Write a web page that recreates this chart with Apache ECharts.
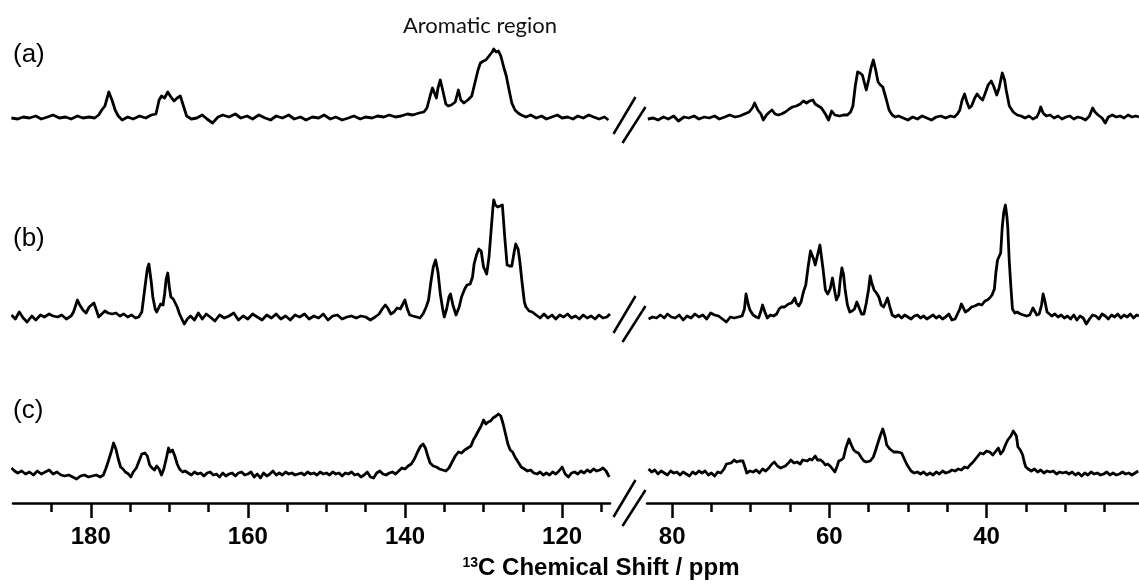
<!DOCTYPE html>
<html>
<head>
<meta charset="utf-8">
<script src="https://cdn.jsdelivr.net/npm/echarts@6/dist/echarts.min.js"></script>
<style>
html, body { margin: 0; padding: 0; background: #fff; }
#chart { width: 1139px; height: 585px; }
</style>
</head>
<body>
<div id="chart"></div>
<script>
// ppm ranges of the two halves of the broken axis
var rangeLeft = [113.9, 189.9];
var rangeRight = [20.6, 83.2];
var majorLeft = [180, 160, 140, 120];
var minorLeft = [185, 175, 170, 165, 155, 150, 145, 135, 130, 125, 115];
var majorRight = [80, 60, 40];
var minorRight = [75, 70, 65, 55, 50, 45, 35, 30, 25];
var traceNames = ['(a)', '(b)', '(c)'];
var regionText = 'Aromatic region';

// [ppm, intensity]
var aLeft = [[190.1,0],[189.3,-1],[188.6,1],[187.8,0],[187,2],[186.3,-1],[185.5,1],[184.8,3],[184,0],[183.2,1],[182.5,-1],[181.7,2],[181,0],[180.2,1],[179.5,0],
  [179,3],[178.6,8],[178.2,12],[177.7,26],[177.3,18],[176.9,8],[176.5,2],[176,-2],[175.3,1],[174.6,-1],[173.8,2],[173,0],[172.3,3],[171.7,4],[171.3,18],[171.0,22],[170.6,20],[170.2,26],[169.8,21],[169.4,17],[169.0,20],[168.6,22],[168.2,12],[167.8,2],[167.2,-1],[166.5,0],[165.8,3],[165.2,-1],[164.5,-5],[163.8,1],
  [163.2,3],[162.4,1],[161.6,4],[160.9,0],[160.1,2],[159.4,-1],[158.6,3],[157.8,0],[157.1,-2],[156.4,2],[155.6,0],[154.8,3],[154.1,-1],[153.3,1],[152.6,-2],[151.8,1],[151,0],[150.3,3],[149.5,-1],[148.8,1],[148,-2],[147.2,0],[146.5,2],[145.7,-1],[145,1],[144.2,0],[143.5,2],[142.7,1],[142,3],[141.2,1],[140.5,2],[139.7,4],[139,3],[138.2,5],[137.6,6],
  [137.2,10],[136.8,22],[136.5,30],[136.2,24],[136,20],[135.8,30],[135.5,38],[135.2,28],[134.8,14],[134.5,12],[134.1,13],[133.6,16],[133.2,28],[132.9,18],[132.5,15],[132,18],[131.5,22],[131.1,35],[130.7,48],[130.4,55],[130,57],[129.7,58],[129.3,62],[128.9,66],[128.7,69],[128.4,66],[128.1,67],[127.8,62],[127.4,50],[127.1,42],[126.8,30],[126.4,15],[126,8],[125.6,5],[125.2,3],
  [124.6,1],[124,3],[123.3,0],[122.6,2],[122,-1],[121.3,1],[120.6,3],[120,0],[119.3,1],[118.6,-1],[118,2],[117.3,0],[116.6,3],[116,1],[115.3,-1],[114.6,1],[114.1,-2]];

var aRight = [[83.1,-1],[82.4,0],[81.8,-2],[81.1,1],[80.5,-1],[79.8,2],[79.2,-3],[78.5,1],[77.9,0],[77.2,2],[76.6,-1],[75.9,1],[75.3,0],[74.6,2],[74,-1],[73.3,1],[72.7,3],[72,1],[71.4,2],[70.8,4],[70.2,6],[69.8,10],[69.5,15],[69.1,8],[68.7,4],[68.4,-2],[68,3],[67.6,6],[67.3,8],[66.9,4],[66.5,3],[66.1,4],[65.6,6],[65.1,9],[64.7,11],[64.2,12],[63.7,14],[63.3,17],[62.9,15],[62.5,17],[62.1,18],[61.8,14],[61.4,12],[61,10],[60.5,4],[60.1,-2],[59.7,7],[59.3,3],[58.7,2],[58.2,3],[57.7,3],[57.3,6],[57,12],[56.7,32],[56.4,46],[56.1,45],[55.8,43],[55.5,34],[55.3,28],[55,38],[54.7,50],[54.4,58],[54.1,48],[53.8,36],[53.5,33],[53.2,31],[52.8,20],[52.4,8],[52,3],[51.6,1],[51.2,2],
  [50.6,0],[50,-2],[49.4,1],[48.8,-1],[48.2,2],[47.6,0],[47,-2],[46.4,1],[45.8,2],[45.2,0],[44.6,2],[44.1,1],
  [43.7,4],[43.4,8],[43.1,18],[42.8,24],[42.5,16],[42.2,10],[41.9,12],[41.5,20],[41.2,24],[40.8,20],[40.5,18],[40.2,24],[39.8,33],[39.4,37],[39.1,32],[38.7,23],[38.4,30],[38.0,45],[37.7,38],[37.5,28],[37.1,12],[36.6,6],[36.1,3],[35.6,2],[35.1,0],[34.6,2],[34.1,-1],[33.6,1],[33.3,6],[33.1,11],[32.8,5],[32.4,2],[31.9,3],[31.4,0],[30.9,2],[30.4,-1],[29.9,1],[29.4,2],[28.9,-1],[28.4,1],[27.9,0],[27.4,-2],[26.9,2],[26.5,10],[26.2,6],[25.8,3],[25.3,0],[24.9,-5],[24.5,1],[24,3],[23.5,1],[23,2],[22.5,0],[22,3],[21.5,1],[21,2],[20.6,1]];

var bLeft = [[190.1,2],[189.6,-2],[189.1,5],[188.6,-1],[188.1,-5],[187.5,1],[187,-3],[186.4,2],[185.9,0],[185.3,3],[184.8,1],[184.2,0],[183.7,2],[183.1,-2],[182.5,1],[182.2,5],[181.9,12],[181.7,17],[181.4,12],[181,7],[180.6,4],[180.2,10],[179.9,12],[179.6,14],[179.2,5],[179,0],[178.6,3],[178.2,6],[177.8,4],[177.3,3],[176.8,4],[176.3,1],[175.8,3],[175.3,0],[174.8,2],[174.3,-1],[173.9,0],[173.5,5],[173.1,30],[172.8,48],[172.6,53],[172.3,35],[172.1,20],[171.8,8],[171.6,5],[171.3,10],[171.1,13],[170.8,12],[170.6,23],[170.4,38],[170.2,44],[170,30],[169.8,20],[169.5,18],[169.3,17],[169,10],[168.7,3],[168.4,-2],[168.1,-7],[167.7,-2],[167.3,1],[166.8,-3],[166.3,4],[165.8,-2],[165.3,3],[164.8,0],
  [164.2,-4],[163.6,2],[163,-1],[162.4,1],[161.8,4],[161.2,-3],[160.6,1],[160,-2],[159.4,3],[158.8,0],[158.2,-3],[157.6,2],[157,-1],[156.4,3],[155.8,-2],[155.2,1],[154.6,-3],[154,2],[153.4,0],[152.8,3],[152.2,-2],[151.6,1],[151,-1],[150.4,3],[149.8,-3],[149.2,1],[148.6,2],[148,-2],[147.4,0],[146.8,1],[146.2,-1],[145.6,1],[145,0],[144.4,-3],[143.8,0],[143.3,3],
  [142.9,8],[142.5,12],[142.2,9],[141.8,3],[141.4,5],[141,9],[140.6,8],[140.2,14],[140,17],[139.7,8],[139.4,2],[139,1],[138.5,0],[138.1,-1],[137.7,3],[137.3,10],[137,17],[136.7,35],[136.4,50],[136.1,57],[135.8,45],[135.5,23],[135.2,8],[135,0],[134.7,8],[134.4,20],[134.2,23],[133.9,12],[133.5,2],[133.1,10],[132.8,20],[132.4,28],[132.1,32],[131.7,33],[131.4,40],[131.2,53],[130.9,62],[130.6,68],[130.3,66],[130,50],[129.6,43],[129.3,60],[129,90],[128.8,110],[128.7,117],[128.5,112],[128.2,110],[127.9,111],[127.6,112],[127.3,80],[127,52],[126.7,51],[126.4,51],[126.1,65],[125.9,73],[125.6,68],[125.4,57],[125.1,35],[124.8,15],[124.6,10],[124.2,6],[123.8,5],[123.3,2],
  [122.8,-1],[122.3,3],[121.8,-1],[121.3,2],[120.8,-2],[120.3,2],[119.8,0],[119.3,3],[118.8,-1],[118.3,1],[117.8,-2],[117.3,2],[116.8,-1],[116.3,1],[115.8,-2],[115.3,2],[114.8,-1],[114.3,0],[113.9,3]];

var bRight = [[83,-2],[82.5,0],[82,-1],[81.5,2],[81,-1],[80.6,3],[80.1,0],[79.6,-1],[79.1,2],[78.6,-3],[78.1,1],[77.6,-1],[77.1,3],[76.6,0],[76.1,2],[75.6,-2],[75.1,4],[74.6,2],[74.1,1],[73.6,-2],[73.1,-5],[72.6,0],[72.1,-1],[71.6,0],[71.1,1],[70.8,8],[70.6,23],[70.3,12],[70.1,7],[69.7,2],[69.3,0],[69,-1],[68.7,6],[68.5,12],[68.2,5],[67.9,-1],[67.5,2],[67.1,1],[66.7,3],[66.4,8],[66.1,10],[65.7,10],[65.2,13],[64.8,14],[64.4,19],[64.2,14],[63.9,11],[63.6,15],[63.3,25],[63,32],[62.7,50],[62.4,66],[62.2,65],[62,58],[61.8,52],[61.5,62],[61.2,72],[61,70],[60.8,48],[60.5,27],[60.2,23],[59.9,28],[59.6,39],[59.3,25],[59.1,17],[58.8,22],[58.6,38],[58.4,49],[58.2,43],[58,28],[57.7,12],[57.4,5],[57.1,6],[56.8,8],[56.5,15],[56.2,9],[55.9,3],[55.6,3],[55.3,14],[55,28],[54.8,41],[54.6,34],[54.3,27],[54,24],[53.7,20],[53.4,12],[53.1,10],[52.8,15],[52.6,19],[52.3,10],[52,2],[51.6,0],[51.2,2],[50.8,-1],[50.4,2],[50,0],[49.6,-2],[49.2,1],[48.8,2],[48.4,-1],[48,1],[47.6,-2],[47.2,0],[46.8,2],[46.4,-1],[46,1],[45.6,-2],[45.2,0],[44.8,3],[44.4,-3],[44,-2],[43.7,3],[43.4,8],[43.2,13],[43,10],[42.7,5],[42.3,7],[41.9,10],[41.5,11],[41,13],[40.6,12],[40.2,16],[39.9,17],[39.6,19],[39.3,22],[39,28],[38.8,45],[38.6,57],[38.4,58],[38.2,64],[38,90],[37.8,105],[37.6,112],[37.4,100],[37.3,90],[37.1,55],[36.9,30],[36.7,8],[36.4,4],[36.1,5],[35.7,3],[35.3,2],[34.9,1],[34.5,2],[34.1,9],[33.9,8],[33.6,2],[33.3,3],[33,12],[32.8,23],[32.6,17],[32.3,5],[32.1,3],[31.7,1],[31.3,3],[30.9,0],[30.5,2],[30.1,-1],[29.7,1],[29.3,-2],[28.9,2],[28.5,-3],[28.1,1],[27.7,-1],[27.3,-7],[26.9,-2],[26.5,2],[26.1,1],[25.7,-2],[25.3,3],[24.9,1],[24.5,-2],[24.1,2],[23.7,0],[23.3,3],[22.9,-1],[22.5,2],[22.1,0],[21.7,3],[21.3,-1],[20.9,2],[20.6,1]];

var cLeft = [[190.1,6],[189.7,3],[189.3,1],[188.8,3],[188.3,0],[187.8,2],[187.3,-1],[186.8,3],[186.3,0],[185.8,2],[185.3,4],[184.8,0],[184.3,2],[183.8,-1],[183.3,-2],[182.8,-1],[182.3,-3],[181.8,-5],[181.3,-2],[180.8,-1],[180.3,-3],[179.8,-2],[179.3,-1],[178.8,-3],[178.4,-1],[178.1,5],[177.8,12],[177.4,22],[177.1,31],[176.8,25],[176.5,15],[176.2,7],[175.9,5],[175.6,2],[175.2,0],[174.9,-3],[174.6,2],[174.2,6],[173.8,14],[173.5,20],[173.1,21],[172.8,18],[172.5,9],[172.2,6],[171.9,4],[171.6,8],[171.3,5],[171,-1],[170.7,5],[170.4,15],[170.1,26],[169.9,22],[169.6,24],[169.3,18],[169,10],[168.7,5],[168.3,2],[168,3],[167.6,1],[167.2,-1],[166.8,2],[166.4,0],[166,1],[165.6,-2],[165.2,1],[164.8,2],[164.4,-1],[164,0],[163.6,-3],[163.2,1],[162.8,-2],[162.4,0],[162,1],[161.6,-2],[161.2,1],[160.8,2],[160.4,-1],[160,0],[159.6,2],[159.2,-3],[158.8,0],[158.4,-4],[158,1],[157.6,-2],[157.2,0],[156.8,3],[156.4,-1],[156,1],[155.6,-1],[155.2,2],[154.8,0],[154.4,1],[154,-1],[153.6,0],[153.2,1],[152.8,-1],[152.4,2],[152,0],[151.6,1],[151.2,-1],[150.8,2],[150.4,0],[150,1],[149.6,-1],[149.2,2],[148.8,0],[148.4,1],[148,-2],[147.6,1],[147.2,0],[146.8,2],[146.4,-1],[146,0],[145.6,-3],[145.2,-1],[144.8,2],[144.4,-3],[144,-4],[143.6,1],[143.2,3],[142.8,0],[142.4,-1],[142,1],[141.6,2],[141.2,0],
  [140.8,3],[140.4,6],[140,5],[139.6,8],[139.2,10],[138.8,15],[138.4,22],[138,28],[137.7,30],[137.4,26],[137.1,18],[136.8,11],[136.4,8],[136,7],[135.6,5],[135.2,4],[134.8,3],[134.4,6],[134,12],[133.6,18],[133.2,22],[132.8,21],[132.4,24],[132,26],[131.6,28],[131.3,34],[131,38],[130.6,44],[130.3,48],[130,54],[129.7,50],[129.4,52],[129.1,53],[128.8,56],[128.4,58],[128.1,60],[127.8,58],[127.5,50],[127.2,40],[126.9,30],[126.6,24],[126.3,22],[126,17],[125.6,12],[125.2,7],[124.8,5],[124.4,3],[124,4],[123.6,1],[123.2,0],[122.8,2],[122.4,-1],[122,1],[121.6,-1],[121.2,2],[120.8,0],[120.4,3],[120,7],[119.6,0],[119.2,-3],[118.8,1],[118.4,2],[118,0],[117.6,3],[117.2,1],[116.8,4],[116.4,2],[116,5],[115.6,3],[115.2,4],[114.8,6],[114.4,3],[114,-3]];

var cRight = [[83.0,5],[82.6,2],[82.2,4],[81.8,0],[81.4,3],[81.0,1],[80.6,-1],[80.2,3],[79.8,1],[79.4,2],[79.0,-1],[78.6,2],[78.2,0],[77.8,-2],[77.4,2],[77.0,0],[76.6,3],[76.2,1],[75.8,3],[75.4,-1],[75.0,1],[74.6,-2],[74.2,2],[73.8,1],[73.4,5],[73.1,10],[72.9,12],[72.5,11],[72.1,14],[71.8,12],[71.4,13],[71.0,13],[70.7,6],[70.5,1],[70.1,3],[69.7,2],[69.3,4],[68.9,1],[68.5,5],[68.1,3],[67.7,6],[67.3,10],[67.0,12],[66.6,8],[66.2,6],[66.0,4],[65.6,8],[65.2,11],[64.9,14],[64.5,11],[64.1,12],[63.7,10],[63.4,14],[63.2,16],[62.8,13],[62.5,15],[62.2,14],[61.8,18],[61.5,14],[61.1,14],[60.8,12],[60.5,9],[60.2,10],[59.9,8],[59.6,5],[59.3,2],[59.0,8],[58.8,13],[58.5,14],[58.2,16],[57.9,26],[57.5,35],[57.2,29],[56.9,24],[56.6,22],[56.3,21],[55.9,16],[55.6,13],[55.3,12],[55.1,10],[54.8,13],[54.4,17],[54.1,24],[53.7,34],[53.4,41],[53.2,45],[52.9,37],[52.7,29],[52.3,25],[51.8,22],[51.3,22],[50.8,21],[50.4,14],[50.1,9],[49.6,3],[49.2,1],[48.8,2],[48.4,0],[48.0,2],[47.6,-1],[47.2,1],[46.8,-1],[46.4,2],[46.0,0],[45.6,3],[45.2,1],[44.8,2],[44.4,4],[44.0,3],[43.6,5],[43.2,4],[42.8,7],[42.4,6],[42.1,9],[41.7,12],[41.3,16],[40.8,21],[40.4,20],[40.0,23],[39.6,22],[39.2,19],[38.9,22],[38.5,26],[38.2,20],[37.9,23],[37.6,29],[37.3,34],[36.9,38],[36.6,43],[36.4,44],[36.2,38],[36.0,27],[35.7,24],[35.4,19],[35.2,12],[35.0,7],[34.7,5],[34.3,3],[33.9,5],[33.5,2],[33.1,4],[32.7,1],[32.3,3],[31.9,2],[31.5,3],[31.1,0],[30.7,2],[30.3,1],[29.9,2],[29.5,0],[29.1,2],[28.7,-1],[28.3,1],[27.9,-2],[27.5,1],[27.1,-1],[26.7,2],[26.3,0],[25.9,1],[25.5,-1],[25.1,0],[24.7,2],[24.3,-1],[23.9,1],[23.5,-1],[23.1,0],[22.7,2],[22.3,0],[21.9,1],[21.5,-1],[21.1,1],[20.7,3]];

var traces = [[aLeft, aRight], [bLeft, bRight], [cLeft, cRight]];

// layout
var rows = [
    { top: 8, height: 130, min: -20, max: 110 },
    { top: 192, height: 145, min: -20, max: 125 },
    { top: 394, height: 109, min: -29, max: 80 }
];
var cols = [
    { left: 13, right: 529, range: rangeLeft, major: majorLeft, minor: minorLeft },
    { left: 647, right: 0, range: rangeRight, major: majorRight, minor: minorRight }
];
var tickFont = '"Liberation Sans Narrow", "Liberation Sans", Arial, sans-serif';
var black = '#000';

var chart = echarts.init(document.getElementById('chart'));

var grid = [], xAxis = [], yAxis = [], series = [];
rows.forEach(function (row, r) {
    cols.forEach(function (col, c) {
        var gi = r * 2 + c;
        var bottomRow = r === rows.length - 1;
        grid.push({ left: col.left, right: col.right, top: row.top, height: row.height });
        xAxis.push({
            gridIndex: gi,
            type: 'value',
            inverse: true,
            position: 'bottom',
            min: col.range[0],
            max: col.range[1],
            show: bottomRow,
            axisLine: { show: true, onZero: false, lineStyle: { color: black, width: 2.5 } },
            axisTick: { show: true, customValues: col.major, length: 15, lineStyle: { color: black, width: 2.5 } },
            axisLabel: {
                customValues: col.major, margin: 22, color: black,
                fontFamily: tickFont, fontWeight: 'bold', fontSize: 24
            },
            splitLine: { show: false }
        });
        yAxis.push({ gridIndex: gi, type: 'value', show: false, min: row.min, max: row.max });
        series.push({
            type: 'line',
            xAxisIndex: gi,
            yAxisIndex: gi,
            data: traces[r][c],
            showSymbol: false,
            symbol: 'none',
            lineStyle: { color: black, width: 2.8, join: 'round' },
            animation: false
        });
    });
});

// extra axes carrying the short ticks
cols.forEach(function (col, c) {
    xAxis.push({
        gridIndex: (rows.length - 1) * 2 + c,
        type: 'value',
        inverse: true,
        position: 'bottom',
        min: col.range[0],
        max: col.range[1],
        axisLine: { show: false, onZero: false },
        axisTick: { show: true, customValues: col.minor, length: 9, lineStyle: { color: black, width: 2.5 } },
        axisLabel: { show: false },
        splitLine: { show: false }
    });
});

chart.setOption({
    backgroundColor: '#fff',
    animation: false,
    grid: grid,
    xAxis: xAxis,
    yAxis: yAxis,
    series: series
});

// break marks and texts
var gapLeft = chart.convertToPixel({ xAxisIndex: 0 }, rangeLeft[0]);
var gapRight = chart.convertToPixel({ xAxisIndex: 1 }, rangeRight[1]);
var cx = (gapLeft + gapRight) / 2;

function breakMark(cy) {
    return [
        { type: 'line', shape: { x1: cx - 15, y1: cy + 13, x2: cx + 7, y2: cy - 24 }, style: { stroke: black, lineWidth: 2.5 } },
        { type: 'line', shape: { x1: cx - 6, y1: cy + 22, x2: cx + 17, y2: cy - 14 }, style: { stroke: black, lineWidth: 2.5 } }
    ];
}

var graphics = [];
[0, 1].forEach(function (r) {
    var base = chart.convertToPixel({ yAxisIndex: r * 2 }, 0);
    graphics = graphics.concat(breakMark(base + 3));
});
var axisY = chart.convertToPixel({ yAxisIndex: 4 }, rows[2].min);
graphics = graphics.concat(breakMark(axisY + 1));

var labelY = [55, 239, 411];
traceNames.forEach(function (name, i) {
    graphics.push({
        type: 'text', x: 13, y: labelY[i],
        style: { text: name, fill: black, font: '26px "Liberation Sans", Arial, sans-serif', verticalAlign: 'middle' }
    });
});

graphics.push({
    type: 'text', x: 480, y: 26,
    style: { text: regionText, fill: '#111', font: '22px Lato, "Open Sans", sans-serif', align: 'center', verticalAlign: 'middle' }
});

graphics.push({
    type: 'text', x: 601, y: 568,
    style: {
        text: '{s|13}{m|C Chemical Shift / ppm}',
        align: 'center', verticalAlign: 'middle',
        rich: {
            s: { fontSize: 14, fontWeight: 'bold', fontFamily: tickFont, fill: black, verticalAlign: 'top', lineHeight: 24 },
            m: { fontSize: 24, fontWeight: 'bold', fontFamily: tickFont, fill: black, lineHeight: 24 }
        }
    }
});

chart.setOption({ graphic: graphics });
</script>
</body>
</html>
